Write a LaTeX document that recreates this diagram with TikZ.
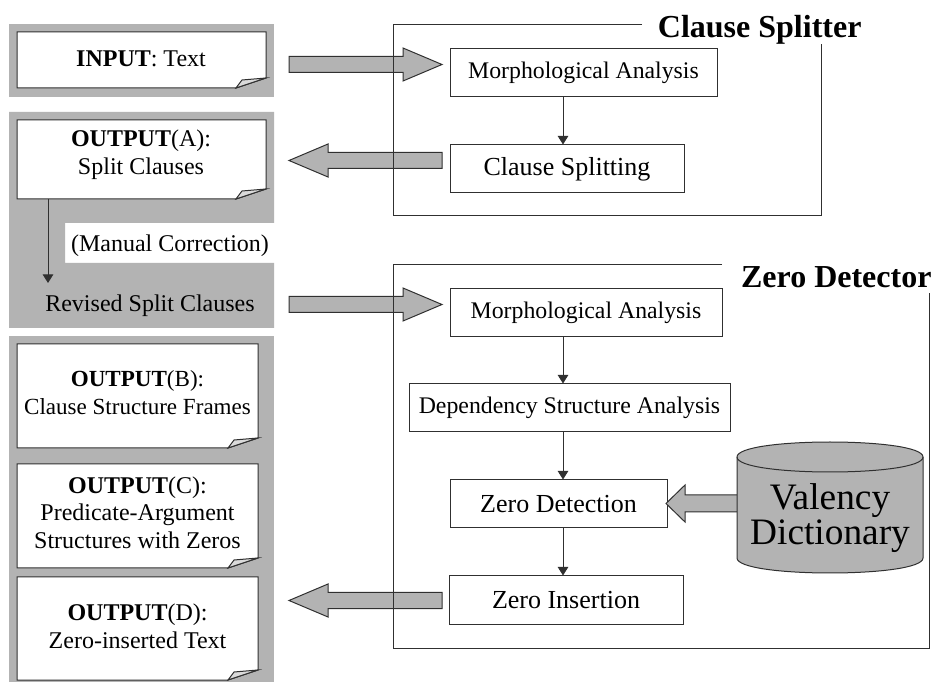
\documentclass[tikz,border=0pt]{standalone}
\usepackage{fontspec}
\setmainfont{Liberation Serif}
\usetikzlibrary{arrows.meta,calc}
\definecolor{panelgray}{HTML}{B3B3B3}
\definecolor{curlgray}{HTML}{DADADA}
\definecolor{edge}{HTML}{303030}
\newcommand\docbox[4]{%
  \draw[edge,fill=white] (#1,#2) -- (#3,#2) -- (#3,#4-10) -- (#3-30,#4) -- (#1,#4) -- cycle;
  \draw[edge,fill=curlgray] (#3-30,#4) -- (#3-24,#4-8) -- (#3,#4-10) -- cycle;}
\newcommand\blockarrow[7]{% tail x, tip x, y, shaft half, head half, head base x
  \draw[edge,fill=panelgray] (#1,#3-#4) -- (#6,#3-#4) -- (#6,#3-#5) -- (#2,#3) -- (#6,#3+#5) -- (#6,#3+#4) -- (#1,#3+#4) -- cycle;}
\begin{document}
\begin{tikzpicture}[x=0.75pt,y=-0.75pt,line width=0.75pt,
  lt/.style={font=\fontsize{18}{21}\selectfont,inner sep=0pt,anchor=base},
  ltb/.style={font=\fontsize{17.3}{21}\selectfont,inner sep=0pt,anchor=base},
  procbox/.style={draw=edge,fill=white,inner sep=0pt,minimum height=36pt,font=\fontsize{17.85}{21}\selectfont},
  procbig/.style={procbox,font=\fontsize{19.5}{23}\selectfont},
  ttl/.style={font=\fontsize{24}{28}\selectfont\bfseries,inner sep=0pt},
  cyltxt/.style={font=\fontsize{28}{32}\selectfont,inner sep=0pt,anchor=base},
  thin/.style={edge,-{Triangle[length=6.5pt,width=8pt]}}]
\useasboundingbox (0,0) rectangle (933,684);
% left gray panels
\fill[panelgray] (9,24) rectangle (274,97);
\fill[panelgray] (9,112) -- (274,112) -- (274,223) -- (65,223) -- (65,263) -- (274,263) -- (274,328) -- (9,328) -- cycle;
\fill[panelgray] (9,336) rectangle (274,682);
% document boxes
\docbox{17}{32}{266}{88}
\docbox{17}{120}{266}{199}
\docbox{17}{344}{258}{448}
\docbox{17}{464}{258}{568}
\docbox{17}{577}{258}{680}
\node[lt] (in1) at (141,67) {\textbf{INPUT}: Text};
\node[lt] (a1) at (141,147) {\textbf{OUTPUT}(A):};
\node[lt] (a2) at (141,175) {Split Clauses};
\node[lt] (man) at (170,252) {(Manual Correction)};
\node[lt] (rev) at (150,312) {Revised Split Clauses};
\node[ltb] (b1) at (137.5,387) {\textbf{OUTPUT}(B):};
\node[ltb] (b2) at (137.5,415) {Clause Structure Frames};
\node[lt] (c1) at (137.5,494) {\textbf{OUTPUT}(C):};
\node[lt] (c2) at (137.5,521) {Predicate-Argument};
\node[lt] (c3) at (137.5,549) {Structures with Zeros};
\node[lt] (d1) at (137.5,620) {\textbf{OUTPUT}(D):};
\node[lt] (d2) at (137.5,648) {Zero-inserted Text};
\coordinate (ac) at (48,283);
\draw[thin] (ac |- 17,199) -- (ac);
% process boxes
\node[procbox,minimum width=200.25pt] (m1) at (583.5,73) {Morphological Analysis};
\node[procbig,minimum width=175.5pt] (cs) at (567,169) {Clause Splitting};
\node[procbox,minimum width=204pt] (m2) at (586,313) {Morphological Analysis};
\node[procbox,minimum width=240.75pt] (dep) at (569.5,408) {Dependency Structure Analysis};
\node[procbig,minimum width=162.75pt] (zd) at (558.5,504) {Zero Detection};
\node[procbig,minimum width=175.5pt] (zi) at (566,600) {Zero Insertion};
\coordinate (ax) at (563,0);
\draw[thin] (m1.south -| ax) -- (cs.north -| ax);
\draw[thin] (m2.south -| ax) -- (dep.north -| ax);
\draw[thin] (dep.south -| ax) -- (zd.north -| ax);
\draw[thin] (zd.south -| ax) -- (zi.north -| ax);
% block arrows
\blockarrow{289}{442}{64.5}{8}{16.5}{403}{}
\blockarrow{442}{289}{160.5}{8}{16.5}{328}{}
\blockarrow{289}{442}{304.5}{8}{16.5}{403}{}
\blockarrow{442}{289}{600.5}{8}{16.5}{328}{}
\blockarrow{740}{666}{503.5}{8.5}{18.5}{685}{}
% cylinder
\draw[edge,fill=panelgray] (737,457) -- (737,558) .. controls (737,578) and (923,578) .. (923,558) -- (923,457) .. controls (923,437) and (737,437) .. (737,457) -- cycle;
\draw[edge] (737,457) .. controls (737,477) and (923,477) .. (923,457);
\node[cyltxt] (val1) at (830,510) {Valency};
\node[cyltxt] (val2) at (830,545) {Dictionary};
% frames
\draw[edge] (642,25) -- (393.5,25) -- (393.5,216) -- (821,216) -- (821,44);
\draw[edge] (722,265) -- (393.5,265) -- (393.5,648) -- (929,648) -- (929,293);
\node[ttl,anchor=base east] (t1) at (862,38) {Clause Splitter};
\node[ttl,anchor=base east] (t2) at (932,288) {Zero Detector};
\end{tikzpicture}
\end{document}
